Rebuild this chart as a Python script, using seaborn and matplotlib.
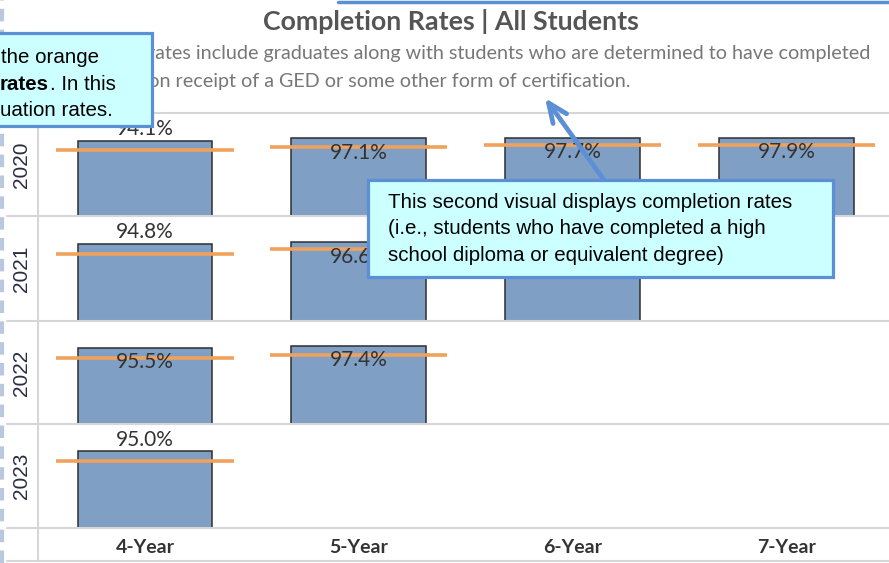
import matplotlib
matplotlib.use('Agg')
import matplotlib.pyplot as plt
from matplotlib.lines import Line2D
from matplotlib.patches import Rectangle, FancyArrowPatch
import seaborn as sns
import pandas as pd

# data
years = ['2020', '2021', '2022', '2023']
periods = ['4-Year', '5-Year', '6-Year', '7-Year']
completion_2020 = [94.1, 97.1, 97.7, 97.9]
completion_2021 = [94.8, 96.6, 97.4]
completion_2022 = [95.5, 97.4]
completion_2023 = [95.0]
graduation_2020 = [82.8, 86.5, 88.5, 88.5]
graduation_2021 = [82.0, 88.3, 89.0]
graduation_2022 = [82.5, 86.5]
graduation_2023 = [83.0]

completion = [completion_2020, completion_2021, completion_2022, completion_2023]
graduation = [graduation_2020, graduation_2021, graduation_2022, graduation_2023]

rows = []
for y, comp, grad in zip(years, completion, graduation):
    for p, c, g in zip(periods, comp, grad):
        rows.append({'year': y, 'period': p, 'completion': c, 'graduation': g})
df = pd.DataFrame(rows)

sns.set_style('white')
plt.rcParams['font.family'] = ['Lato', 'DejaVu Sans']

W, H = 889, 563
bar_color = '#7f9fc4'
orange = '#f0a25c'
grid_color = '#d6d6d6'
text_color = '#333333'
callout_blue = '#5b8fd6'
callout_fill = '#ccffff'


def fx(x):
    return x / W


def fy(y):
    return 1 - y / H


fig = plt.figure(figsize=(W / 100, H / 100), dpi=100)

row_edges = [113, 216, 321, 424, 528]

for i, year in enumerate(years):
    top, bot = row_edges[i], row_edges[i + 1]
    ax = fig.add_axes([fx(38), fy(bot), fx(889) - fx(38), (bot - top) / H])
    sub = df[df['year'] == year]
    sns.barplot(data=sub, x='period', y='completion', order=periods, color=bar_color,
                saturation=1, width=0.63, edgecolor='#2e2e2e', linewidth=1.1, ax=ax)
    for j, p in enumerate(periods):
        r = sub[sub['period'] == p]
        if len(r) == 0:
            continue
        v = r['completion'].iloc[0]
        g = r['graduation'].iloc[0]
        ax.hlines(g, j - 0.415, j + 0.415, color=orange, lw=2.6, zorder=4)
        inside = v > 95.2
        ax.annotate('%.1f%%' % v, (j, v), xytext=(0, -3 if inside else 1),
                    textcoords='offset points', ha='center',
                    va='top' if inside else 'bottom', fontsize=15, color=text_color,
                    zorder=5)
    ax.set_xlim(-0.5, 3.48)
    ax.set_ylim(0, 129)
    ax.set_yticks([])
    ax.set_xlabel('')
    ax.set_ylabel('')
    for s in ax.spines.values():
        s.set_visible(False)
    ax.tick_params(axis='x', length=0, pad=8)
    if i < len(years) - 1:
        ax.set_xticklabels([])
    else:
        for t in ax.get_xticklabels():
            t.set_fontweight('bold')
            t.set_fontsize(14)
            t.set_color(text_color)
    ax.patch.set_alpha(0)
    fig.text(fx(22), fy((top + bot) / 2), year, rotation=90, ha='center', va='center',
             fontsize=15, color='#2b2b45', family=['Liberation Sans'])

# grid lines of the table
for y in row_edges + [561]:
    fig.add_artist(Line2D([fx(7), 1], [fy(y), fy(y)], color=grid_color, lw=1.5))
fig.add_artist(Line2D([fx(38), fx(38)], [fy(113), fy(561)], color=grid_color, lw=1.5))

# left dashed border
fig.add_artist(Line2D([fx(2), fx(2)], [0, 1], color='#b9c8de', lw=3, ls=(0, (3, 2))))

# title and subtitle
fig.text(fx(451), fy(22), 'Completion Rates | All Students', ha='center', va='center',
         fontsize=19.3, fontweight='bold', color='#555555')
fig.text(fx(870), fy(54), 'Completion rates include graduates along with students who are determined to have completed',
         ha='right', va='center', fontsize=14.2, color='#777777')
fig.text(fx(630), fy(81), 'high school upon receipt of a GED or some other form of certification.',
         ha='right', va='center', fontsize=14.2, color='#777777')

# top blue border from a box above
fig.add_artist(Line2D([fx(338), fx(889)], [fy(1.5), fy(1.5)], color=callout_blue, lw=2.5))

# left callout
fig.add_artist(Rectangle((fx(-10), fy(126)), fx(162), 93 / H, facecolor=callout_fill,
                         edgecolor=callout_blue, lw=2.3, zorder=10))
cfont = ['Liberation Sans', 'DejaVu Sans']
fig.text(fx(1), fy(58), 'the orange', ha='left', va='center', fontsize=14.8, family=cfont,
         color='black', zorder=11)
t_bold = fig.text(fx(0), fy(85), 'rates', ha='left', va='center', fontsize=14.8, family=cfont,
                  fontweight='bold', color='black', zorder=11)
fig.canvas.draw()
bb = t_bold.get_window_extent(renderer=fig.canvas.get_renderer())
fig.text((bb.x1 + 1) / W, fy(85), '. In this', ha='left', va='center', fontsize=14.8,
         family=cfont, color='black', zorder=11)
fig.text(fx(0), fy(110), 'uation rates.', ha='left', va='center', fontsize=14.8, family=cfont,
         color='black', zorder=11)

# second callout with arrow
fig.add_artist(FancyArrowPatch((fx(604), fy(180)), (fx(545), fy(98)), transform=fig.transFigure,
                               arrowstyle='->,head_length=14,head_width=6', color=callout_blue,
                               lw=3.4, mutation_scale=1, zorder=9, capstyle='round',
                               shrinkA=0, shrinkB=0))
fig.add_artist(Rectangle((fx(368), fy(277)), (833 - 368) / W, 97 / H, facecolor=callout_fill,
                         edgecolor=callout_blue, lw=2.3, zorder=10))
lines2 = ['This second visual displays completion rates',
          '(i.e., students who have completed a high',
          'school diploma or equivalent degree)']
for k, s in enumerate(lines2):
    fig.text(fx(388), fy(203 + 26 * k), s, ha='left', va='center', fontsize=14.8, family=cfont,
             color='black', zorder=11)

plt.savefig('out.png', dpi=100)
print('finished')
